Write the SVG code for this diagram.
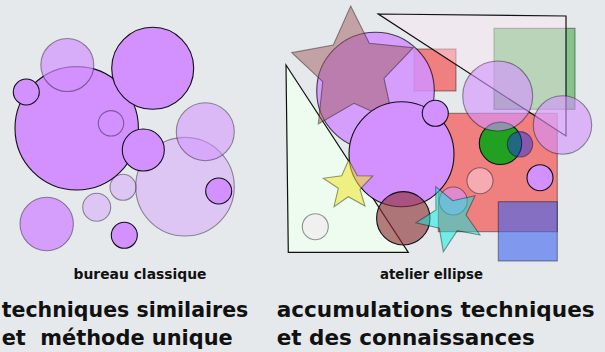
<svg xmlns="http://www.w3.org/2000/svg" width="605" height="352" viewBox="0 0 605 352">
<style>
.op{fill:#d291ff;stroke:#111;stroke-width:1.1}
.sp{stroke:rgba(0,0,0,0.4);stroke-width:1.1}
.ln{stroke:#111;stroke-width:1.2}
.lab{font-family:"DejaVu Sans","Liberation Sans",sans-serif;font-weight:bold;fill:#111}
</style>
<rect x="0" y="0" width="605" height="352" fill="#e5e9ec"/>
<g id="bureau">
<circle class="op" cx="76.7" cy="128.3" r="61.7"/>
<circle class="sp" cx="111" cy="123.3" r="12.7" fill="none"/>
<circle class="sp" cx="67.3" cy="65" r="26.5" fill="rgba(210,145,255,0.7)"/>
<circle class="op" cx="26.3" cy="92" r="13"/>
<circle class="op" cx="152.7" cy="68.3" r="41"/>
<circle class="sp" cx="185" cy="186.7" r="49.3" fill="rgba(210,145,255,0.4)"/>
<circle class="sp" cx="205.3" cy="131.7" r="29" fill="rgba(210,145,255,0.55)"/>
<circle class="op" cx="143.3" cy="150" r="21"/>
<circle class="sp" cx="123" cy="187.3" r="13" fill="rgba(210,145,255,0.4)"/>
<circle class="sp" cx="96.7" cy="207.3" r="14" fill="rgba(210,145,255,0.4)"/>
<circle class="op" cx="218.7" cy="191" r="13"/>
<circle class="sp" cx="46.7" cy="224" r="26.7" fill="rgba(210,145,255,0.85)"/>
<circle class="op" cx="124.3" cy="235.3" r="13"/>
</g>
<g id="atelier">
<rect class="sp" x="438.3" y="113.3" width="119" height="118.4" fill="rgba(250,40,40,0.55)"/>
<rect class="sp" x="498.3" y="201.7" width="59" height="59.3" fill="rgba(60,100,240,0.6)"/>
<rect class="sp" x="494" y="28.3" width="81" height="81" fill="rgba(40,160,40,0.5)"/>
<rect class="sp" x="414" y="49" width="42" height="42" fill="rgba(250,40,40,0.55)"/>
<polygon class="ln" points="378.3,14 566,16 566,136" fill="rgba(250,232,245,0.45)"/>
<polygon class="ln" points="286,65 288.3,252.3 408.3,252.3" fill="rgba(240,255,240,0.85)"/>
<circle cx="375.5" cy="91" r="58.8" fill="rgba(210,145,255,0.85)" stroke="rgba(0,0,0,0.7)" stroke-width="1.1"/>
<polygon class="sp" points="350.7,6 369.3,43.3 413.3,47.7 384,78.3 393.3,121 354,103.3 318.3,124 322.7,81.7 291.7,52.7 333.3,45" fill="rgba(160,92,93,0.5)"/>
<circle class="op" cx="401.5" cy="154.2" r="52.5"/>
<circle class="op" cx="435.3" cy="113.3" r="13"/>
<circle cx="500.5" cy="143.3" r="21.2" fill="#22a022" stroke="#111" stroke-width="1.1"/>
<circle class="sp" cx="520" cy="144.3" r="12.7" fill="rgba(30,50,220,0.5)"/>
<circle class="sp" cx="497.7" cy="96" r="35" fill="rgba(210,145,255,0.6)"/>
<circle class="sp" cx="562.5" cy="125" r="29.2" fill="rgba(210,145,255,0.6)"/>
<circle class="op" cx="540" cy="177.7" r="13"/>
<circle class="sp" cx="480" cy="180.7" r="13" fill="rgba(248,185,195,0.75)"/>
<circle cx="403.3" cy="218.3" r="26.7" fill="rgba(140,45,50,0.62)" stroke="#111" stroke-width="1.1"/>
<circle class="sp" cx="453.3" cy="201" r="14" fill="rgba(210,145,255,0.6)"/>
<polygon class="sp" points="435.7,186.7 452.7,200.7 475,195.7 466,215 480,235 457.3,230.7 443.3,251.7 439.3,228.3 416,222.7 436,210" fill="rgba(0,240,225,0.5)"/>
<polygon class="sp" points="348.7,160 357.3,175.7 372.7,176 360,189.3 365,206 348.3,196.7 334,206.7 338.3,188.3 323.3,178.3 341.7,175.7" fill="rgba(240,230,40,0.55)"/>
<circle class="sp" cx="315.3" cy="226.7" r="13" fill="#f0f0f0"/>
</g>
<g id="labels">
<text class="lab" x="140" y="278.5" font-size="14" text-anchor="middle" textLength="133" lengthAdjust="spacingAndGlyphs">bureau classique</text>
<text class="lab" x="431.5" y="278.5" font-size="14" text-anchor="middle" textLength="103" lengthAdjust="spacingAndGlyphs">atelier ellipse</text>
<text class="lab" x="1.7" y="316.7" font-size="21" textLength="246.6" lengthAdjust="spacingAndGlyphs">techniques similaires</text>
<text class="lab" x="1.7" y="345" font-size="21" xml:space="preserve" textLength="231" lengthAdjust="spacingAndGlyphs">et  méthode unique</text>
<text class="lab" x="276.7" y="316.7" font-size="21" textLength="318" lengthAdjust="spacingAndGlyphs">accumulations techniques</text>
<text class="lab" x="276.7" y="345" font-size="21" textLength="258" lengthAdjust="spacingAndGlyphs">et des connaissances</text>
</g>
</svg>
